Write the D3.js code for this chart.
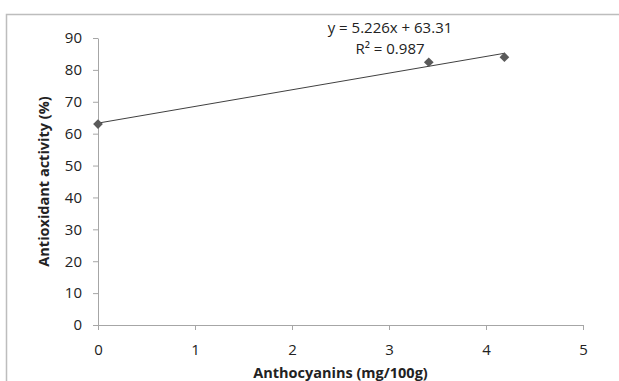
<!DOCTYPE html>
<html>
<head>
<meta charset="utf-8">
<script src="https://cdn.jsdelivr.net/npm/d3@7"></script>
<style>
  body { margin: 0; background: #fff; }
  text { font-family: "Open Sans", "Noto Sans", sans-serif; fill: #222; }
</style>
</head>
<body>
<div id="chart"></div>
<script>
// measured points
const ANTHOCYANINS = [0, 3.41, 4.19];
const ACTIVITY = [63, 82.4, 84];

const X_TICKS = [0, 1, 2, 3, 4, 5];
const Y_TICKS = [0, 10, 20, 30, 40, 50, 60, 70, 80, 90];

const SLOPE = 5.226;
const INTERCEPT = 63.31;
const EQUATION = "y = 5.226x + 63.31";
const R_SQUARED = "R² = 0.987";

const X_TITLE = "Anthocyanins (mg/100g)";
const Y_TITLE = "Antioxidant activity (%)";

const drawChart = () => {
    const width = 619;
    const height = 381;
    const marginLeft = 98;
    const marginRight = 36;
    const marginTop = 38;
    const marginBottom = 56;

    const svg = d3.select("#chart").append("svg")
        .attr("width", width)
        .attr("height", height);

    // chart area frame (only top/left visible in the picture)
    svg.append("path")
        .attr("d", `M6.5,${height}V14.5H${width}`)
        .attr("fill", "none")
        .attr("stroke", "#bdbdbd")
        .attr("stroke-width", 1.5);

    const x = d3.scaleLinear()
        .domain([0, 5])
        .range([marginLeft, width - marginRight]);

    const y = d3.scaleLinear()
        .domain([0, 90])
        .range([height - marginBottom, marginTop]);

    const xAxis = svg.append("g")
        .attr("transform", `translate(0,${y(0)})`)
        .call(d3.axisBottom(x).tickValues(X_TICKS).tickFormat(d3.format("d"))
            .tickSize(5).tickPadding(14).tickSizeOuter(0));

    const yAxis = svg.append("g")
        .attr("transform", `translate(${x(0)},0)`)
        .call(d3.axisLeft(y).tickValues(Y_TICKS).tickFormat(d3.format("d"))
            .tickSize(5).tickPadding(11).tickSizeOuter(0));

    [xAxis, yAxis].forEach(g => {
        g.select(".domain").attr("stroke", "#a6a6a6");
        g.selectAll(".tick line").attr("stroke", "#a6a6a6");
        g.selectAll(".tick text")
            .attr("font-size", 15)
            .attr("font-family", "'Open Sans', sans-serif")
            .attr("fill", "#222");
    });

    // trendline over the data range
    const xMax = d3.max(ANTHOCYANINS);
    svg.append("line")
        .attr("x1", x(0))
        .attr("y1", y(INTERCEPT))
        .attr("x2", x(xMax))
        .attr("y2", y(SLOPE * xMax + INTERCEPT))
        .attr("stroke", "#404040")
        .attr("stroke-width", 1);

    const points = ANTHOCYANINS.map((v, i) => [v, ACTIVITY[i]]);
    svg.selectAll(".marker")
        .data(points)
        .join("path")
        .attr("class", "marker")
        .attr("d", d3.symbol(d3.symbolDiamond2, 60)())
        .attr("transform", d => `translate(${x(d[0])},${y(d[1])})`)
        .attr("fill", "#5a5a5a");

    svg.append("text")
        .attr("x", 390)
        .attr("y", 33)
        .attr("text-anchor", "middle")
        .attr("font-size", 15)
        .text(EQUATION);

    svg.append("text")
        .attr("x", 390)
        .attr("y", 54)
        .attr("text-anchor", "middle")
        .attr("font-size", 15)
        .text(R_SQUARED);

    svg.append("text")
        .attr("x", (x(0) + x(5)) / 2)
        .attr("y", 378)
        .attr("text-anchor", "middle")
        .attr("font-size", 14.5)
        .attr("font-weight", "bold")
        .text(X_TITLE);

    svg.append("text")
        .attr("transform", `translate(49,${(y(0) + y(90)) / 2}) rotate(-90)`)
        .attr("text-anchor", "middle")
        .attr("font-size", 14.5)
        .attr("font-weight", "bold")
        .text(Y_TITLE);
};

window.addEventListener("DOMContentLoaded", () => {
    drawChart();
}, {once: true});
</script>
</body>
</html>
